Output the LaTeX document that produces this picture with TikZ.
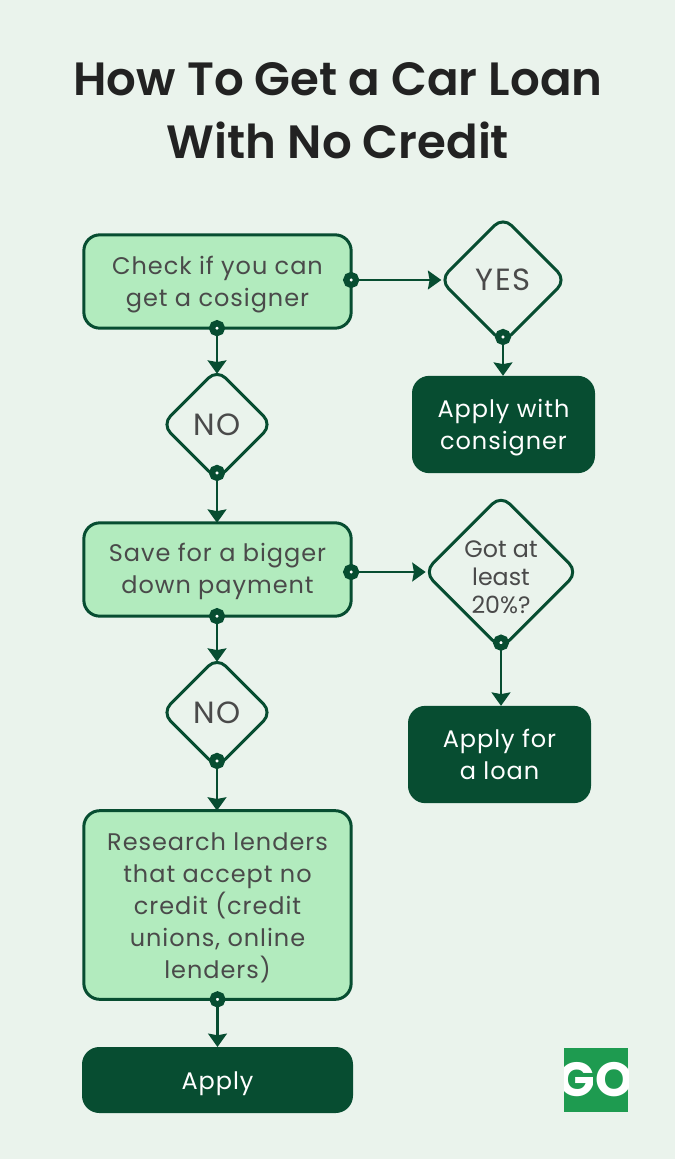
\documentclass[tikz,border=0pt]{standalone}
\usepackage{fontspec}
\setmainfont{Poppins}[BoldFont={Poppins SemiBold}]
\newfontfamily\bodyfont[LetterSpace=4]{Poppins}
\newfontfamily\tightfont[LetterSpace=0]{Poppins}
\newfontfamily\logofont{Poppins}[UprightFont={* Bold}]
\usetikzlibrary{shapes.geometric,arrows.meta}
\definecolor{bgc}{HTML}{EAF3EC}
\definecolor{dark}{HTML}{074D31}
\definecolor{lightg}{HTML}{B2EBBE}
\definecolor{txt}{HTML}{4A4A4A}
\definecolor{ttl}{HTML}{222222}
\definecolor{logo}{HTML}{1E9B50}
\newcommand{\dn}[1][19pt]{\rule{0pt}{#1}}
\tikzset{
  x=0.75pt,y=-0.75pt,
  stepbox/.style={draw=dark,line width=2.25pt,fill=lightg,rounded corners=12pt,outer sep=0pt,
    minimum width=200.5pt,align=center,text=txt,inner sep=0pt,font=\fontsize{18}{24}\selectfont\bodyfont},
  endbox/.style={fill=dark,rounded corners=13pt,outer sep=0pt,align=center,text=white,inner sep=0pt,
    font=\fontsize{18}{24}\selectfont\bodyfont},
  decide/.style={diamond,aspect=1,draw=dark,line width=2.25pt,fill=bgc,rounded corners=9pt,outer sep=0pt,
    inner sep=0pt,align=center,text=txt,font=\fontsize{23}{24}\selectfont\bodyfont},
  conn/.style={draw=dark,line width=2.2pt,-{Stealth[length=10pt,width=14pt,inset=1.2pt]}},
  todiamond/.style={conn,shorten >=-3.2pt},
  portdot/.style={circle,draw=dark,line width=4.6pt,fill=white,minimum size=7.4pt,inner sep=0pt,outer sep=0pt},
}
\begin{document}
\begin{tikzpicture}
\useasboundingbox (0,0) rectangle (675,1159);
\fill[bgc] (0,0) rectangle (675,1159);
\node[font=\fontsize{35}{47.25}\selectfont\bfseries,text=ttl,align=center,inner sep=0pt] (title) at (338,111) {How To Get a Car Loan\\With No Credit};

\node[stepbox,minimum height=70pt] (check) at (217.5,281.5) {\dn Check if you can\\get a cosigner};
\node[decide,minimum size=94.5pt] (yes) at (503,280) {YES};
\node[endbox,minimum width=137.25pt,minimum height=73pt] (cosign) at (503.5,424.5) {\dn Apply with\\consigner};
\node[decide,minimum size=82.5pt] (no1) at (217,424.5) {NO};
\node[stepbox,minimum height=70pt] (save) at (217.5,569.5) {\dn[17pt]Save for a bigger\\down payment};
\node[decide,minimum size=112.5pt,inner sep=-0.8pt,font=\fontsize{17.8}{21}\selectfont\tightfont] (got) at (501,572) {\dn[21pt]Got at\\least\\20\%?};
\node[endbox,minimum width=137.25pt,minimum height=73pt] (loan) at (499.5,754.5) {Apply for\\a loan};
\node[decide,minimum size=82.5pt] (no2) at (217,712.5) {NO};
\node[stepbox,minimum height=141.5pt] (research) at (217.5,905) {\dn[17.5pt]Research lenders\\that accept no\\credit (credit\\unions, online\\lenders)};
\node[endbox,minimum width=203.25pt,minimum height=49.5pt] (apply) at (217.5,1080) {\dn Apply};

\draw[conn,shorten >=-1pt] (check.east |- yes.west) -- (yes.west);
\draw[conn] (yes.south) -- (yes.south |- cosign.north);
\draw[todiamond] (no1.north |- check.south) -- (no1.north);
\draw[conn] (no1.south) -- (no1.south |- save.north);
\draw[conn,shorten >=-1pt] (save.east |- got.west) -- (got.west);
\draw[conn] (got.south) -- (got.south |- loan.north);
\draw[todiamond] (no2.north |- save.south) -- (no2.north);
\draw[conn] (no2.south) -- (no2.south |- research.north);
\draw[conn] (research.south) -- (apply.north);

\node[portdot] (p1) at (check.east |- yes.west) {};
\node[portdot] (p2) at (no1.north |- check.south) {};
\node[portdot] (p3) at ([yshift=4.5pt]yes.south) {};
\node[portdot] (p4) at ([yshift=4.9pt]no1.south) {};
\node[portdot] (p5) at (save.east |- got.west) {};
\node[portdot] (p6) at (no2.north |- save.south) {};
\node[portdot] (p7) at ([yshift=4.5pt]got.south) {};
\node[portdot] (p8) at ([yshift=4.9pt]no2.south) {};
\node[portdot] (p9) at (research.south) {};

\fill[logo] (564,1048) rectangle (628,1112);
\begin{scope}
\clip (564,1048) rectangle (628,1112);
\node[font=\fontsize{36}{40}\selectfont\logofont,text=white,inner sep=0pt] (go) at (596,1080) {GO};
\end{scope}
\end{tikzpicture}
\end{document}
